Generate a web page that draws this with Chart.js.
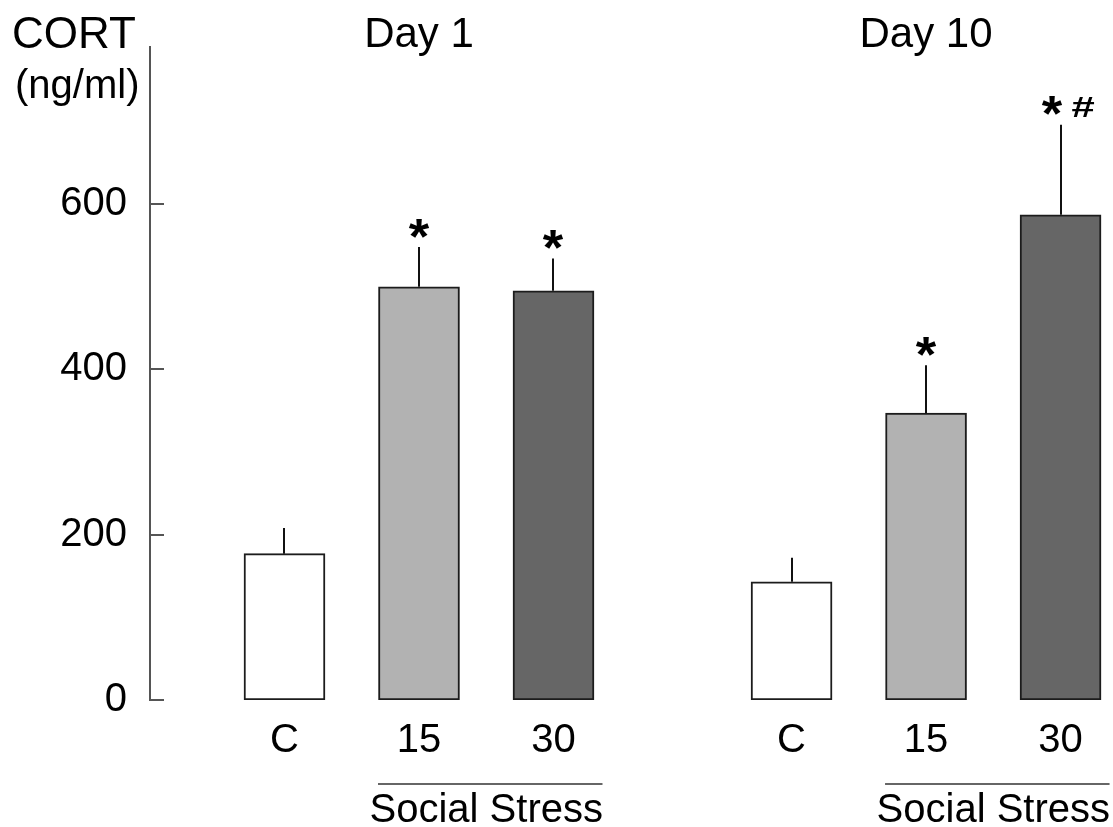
<!DOCTYPE html>
<html>
<head>
<meta charset="utf-8">
<script src="https://cdn.jsdelivr.net/npm/chart.js@4.4.1/dist/chart.umd.min.js"></script>
<style>
  html, body { margin: 0; padding: 0; background: #ffffff; }
  #wrap { width: 1113px; height: 827px; }
</style>
</head>
<body>
<div id="wrap"><canvas id="c" width="1113" height="827"></canvas></div>
<script>
// Plasma corticosterone, mean + SEM, per day and stress duration
const groups = ['Day 1', 'Day 10'];
const categories = ['C', '15', '30'];
const day1Means = [177, 500, 495];
const day1Sem = [31, 48, 39];
const day10Means = [143, 347, 587];
const day10Sem = [29, 58, 109];
const day1Marks = ['', '*', '*'];
const day10Marks = ['', '*', '*#'];
const yTicks = [0, 200, 400, 600];
const stressLabel = 'Social Stress';
const yTitle = ['CORT', '(ng/ml)'];

const FONT = '"Liberation Sans", Arial, sans-serif';
const GROUP_GAP = 0.77;            // extra space between the two day panels (x units)
const barColors = ['#ffffff', '#b2b2b2', '#666666'];

const means = [day1Means, day10Means];
const sems = [day1Sem, day10Sem];
const marks = [day1Marks, day10Marks];

// one point per bar on a linear x scale
const points = [];
groups.forEach((g, gi) => {
  categories.forEach((cat, ci) => {
    points.push({
      x: 1 + ci + gi * (categories.length + GROUP_GAP),
      y: means[gi][ci],
      sem: sems[gi][ci],
      mark: marks[gi][ci],
      label: cat,
      group: gi,
      cat: ci
    });
  });
});
const tickPositions = points.map(p => p.x);
const tickText = new Map(points.map(p => [p.x, p.label]));

// draws a glyph stretched by sx / sy around its centre point
function glyph(ctx, text, cx, cy, font, sx, sy) {
  ctx.save();
  ctx.translate(cx, cy);
  ctx.scale(sx, sy);
  ctx.font = font;
  ctx.textAlign = 'center';
  ctx.textBaseline = 'middle';
  ctx.fillText(text, 0, 0);
  ctx.restore();
}

const decor = {
  id: 'decor',
  afterDatasetsDraw(chart) {
    const { ctx, chartArea } = chart;
    const xs = chart.scales.x, ys = chart.scales.y;
    ctx.save();

    // inward tick marks on the y axis
    ctx.strokeStyle = '#555555';
    ctx.lineWidth = 2;
    yTicks.forEach(v => {
      const py = Math.round(ys.getPixelForValue(v));
      ctx.beginPath();
      ctx.moveTo(chartArea.left, py);
      ctx.lineTo(chartArea.left + 14, py);
      ctx.stroke();
    });

    // upper error bars and significance marks
    points.forEach(p => {
      const px = Math.round(xs.getPixelForValue(p.x));
      const top = ys.getPixelForValue(p.y);
      const end = ys.getPixelForValue(p.y + p.sem);
      ctx.strokeStyle = '#111111';
      ctx.lineWidth = 2;
      ctx.beginPath();
      ctx.moveTo(px, top);
      ctx.lineTo(px, end);
      ctx.stroke();
      if (p.mark) {
        ctx.fillStyle = '#000000';
        const parts = p.mark.split('');
        const ax = px - (parts.length > 1 ? 9 : 0);
        // asterisk: ink centre sits well above the text middle line
        glyph(ctx, parts[0], ax, end - 7, 'bold 50px ' + FONT, 1.05, 1);
        if (parts.length > 1) {
          glyph(ctx, parts.slice(1).join(''), px + 22, end - 16, 'bold 38px ' + FONT, 1.1, 0.8);
        }
      }
    });

    // panel titles
    ctx.fillStyle = '#000000';
    ctx.textAlign = 'center';
    ctx.textBaseline = 'alphabetic';
    ctx.font = '42px ' + FONT;
    groups.forEach((g, gi) => {
      const mid = points.find(p => p.group === gi && p.cat === 1);
      ctx.fillText(g, xs.getPixelForValue(mid.x), 47);
    });

    // y axis title
    ctx.textAlign = 'left';
    ctx.font = '44px ' + FONT;
    ctx.fillText(yTitle[0], 12, 48);
    ctx.font = '40px ' + FONT;
    ctx.fillText(yTitle[1], 15, 98);

    // underline and label for the stressed groups
    groups.forEach((g, gi) => {
      const a = points.find(p => p.group === gi && p.cat === 1);
      const b = points.find(p => p.group === gi && p.cat === 2);
      const xa = xs.getPixelForValue(a.x), xb = xs.getPixelForValue(b.x);
      ctx.strokeStyle = '#333333';
      ctx.lineWidth = 1.6;
      ctx.beginPath();
      ctx.moveTo(xa - 41, 784);
      ctx.lineTo(Math.min(xb + 49, chart.width - 2), 784);
      ctx.stroke();
      ctx.fillStyle = '#000000';
      ctx.textAlign = 'center';
      ctx.font = '40px ' + FONT;
      ctx.fillText(stressLabel, (xa + xb) / 2, 822);
    });

    ctx.restore();
  }
};

new Chart(document.getElementById('c'), {
  type: 'bar',
  data: {
    datasets: [{
      data: points.map(p => ({ x: p.x, y: p.y })),
      backgroundColor: points.map(p => barColors[p.cat]),
      borderColor: '#1c1c1c',
      borderWidth: 2,
      borderSkipped: false,
      barThickness: 81
    }]
  },
  options: {
    responsive: false,
    devicePixelRatio: 1,
    animation: false,
    layout: { padding: { top: 45, left: 0, right: 0, bottom: 0 } },
    plugins: { legend: { display: false }, tooltip: { enabled: false } },
    scales: {
      x: {
        type: 'linear',
        offset: false,
        min: 0,
        max: 7.16,
        grid: { display: false, drawTicks: false },
        border: { display: false },
        afterBuildTicks: s => { s.ticks = tickPositions.map(v => ({ value: v })); },
        afterFit: s => { s.height = 127; },
        ticks: {
          padding: 17,
          color: '#000000',
          font: { family: FONT, size: 40 },
          maxRotation: 0,
          autoSkip: false,
          callback: v => tickText.get(v) || ''
        }
      },
      y: {
        type: 'linear',
        min: 0,
        max: 790,
        grid: { display: false, drawTicks: false },
        border: { display: true, color: '#555555', width: 2 },
        afterBuildTicks: s => { s.ticks = yTicks.map(v => ({ value: v })); },
        afterFit: s => { s.width = 150; },
        ticks: {
          padding: 23,
          color: '#000000',
          font: { family: FONT, size: 40 },
          callback: v => String(v)
        }
      }
    }
  },
  plugins: [decor]
});
</script>
</body>
</html>
